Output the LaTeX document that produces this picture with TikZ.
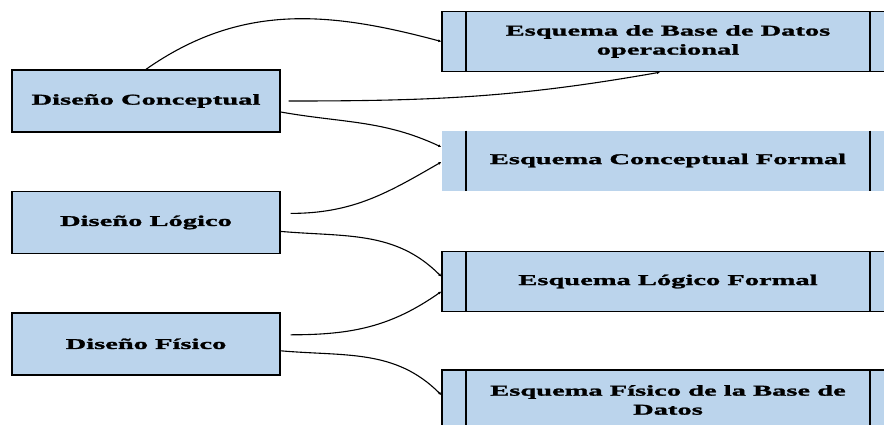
\documentclass[tikz,border=0pt]{standalone}
\usepackage{fontspec}
\newfontfamily\diafont{Liberation Serif}[FakeStretch=1.9, BoldFeatures={FakeBold=1.6}]
\usetikzlibrary{arrows.meta,positioning}
\definecolor{boxblue}{RGB}{187,212,236}

\begin{document}
\begin{tikzpicture}[
  x=1pt, y=1pt,
  dbox/.style={rectangle, draw, line width=1.4pt, fill=boxblue,
               align=center, font=\diafont\bfseries\fontsize{15}{19}\selectfont,
               minimum width=268pt, minimum height=62pt, inner sep=0pt},
  ebox/.style={dbox, minimum width=452pt, minimum height=60pt,
               path picture={\draw[line width=1.4pt]
                 ([xshift=24pt]path picture bounding box.north west) --
                 ([xshift=24pt]path picture bounding box.south west)
                 ([xshift=-24pt]path picture bounding box.north east) --
                 ([xshift=-24pt]path picture bounding box.south east);}},
  link/.style={draw, line width=1.1pt, -{Latex[length=3pt,width=3pt]}},
  node distance=58pt
]
\useasboundingbox (0,0) rectangle (884,-424);
% design phases
\node[dbox] (dcon) at (146,-101) {Diseño Conceptual};
\node[dbox, below=of dcon] (dlog) {Diseño Lógico};
\node[dbox, below=of dlog] (dfis) {Diseño Físico};
% resulting schemas
\node[ebox] (eop) at (668,-41.5) {Esquema de Base de Datos\\operacional};
\node[ebox, draw=none] (ecf) at (668,-160.5) {Esquema Conceptual Formal};
\node[ebox] (elf) at (668,-281.5) {Esquema Lógico Formal};
\node[ebox] (efi) at (668,-400) {Esquema Físico de la Base de\\Datos};
% links
\draw[link] (dcon.north) to[out=35,in=165] (eop.west);
\draw[link] ([xshift=8pt]dcon.east) to[out=0,in=190] ([xshift=-8pt]eop.south);
\draw[link] ([yshift=-11pt]dcon.east) to[out=-10,in=155] ([yshift=13.5pt]ecf.west);
\draw[link] ([xshift=10pt,yshift=9pt]dlog.east) to[out=0,in=210] ([yshift=-1.5pt]ecf.west);
\draw[link] ([yshift=-9pt]dlog.east) to[out=-5,in=135] ([yshift=5pt]elf.west);
\draw[link] ([xshift=10pt,yshift=9pt]dfis.east) to[out=0,in=215] ([yshift=-10pt]elf.west);
\draw[link] ([yshift=-7pt]dfis.east) to[out=-5,in=135] ([yshift=5pt]efi.west);
\end{tikzpicture}
\end{document}
